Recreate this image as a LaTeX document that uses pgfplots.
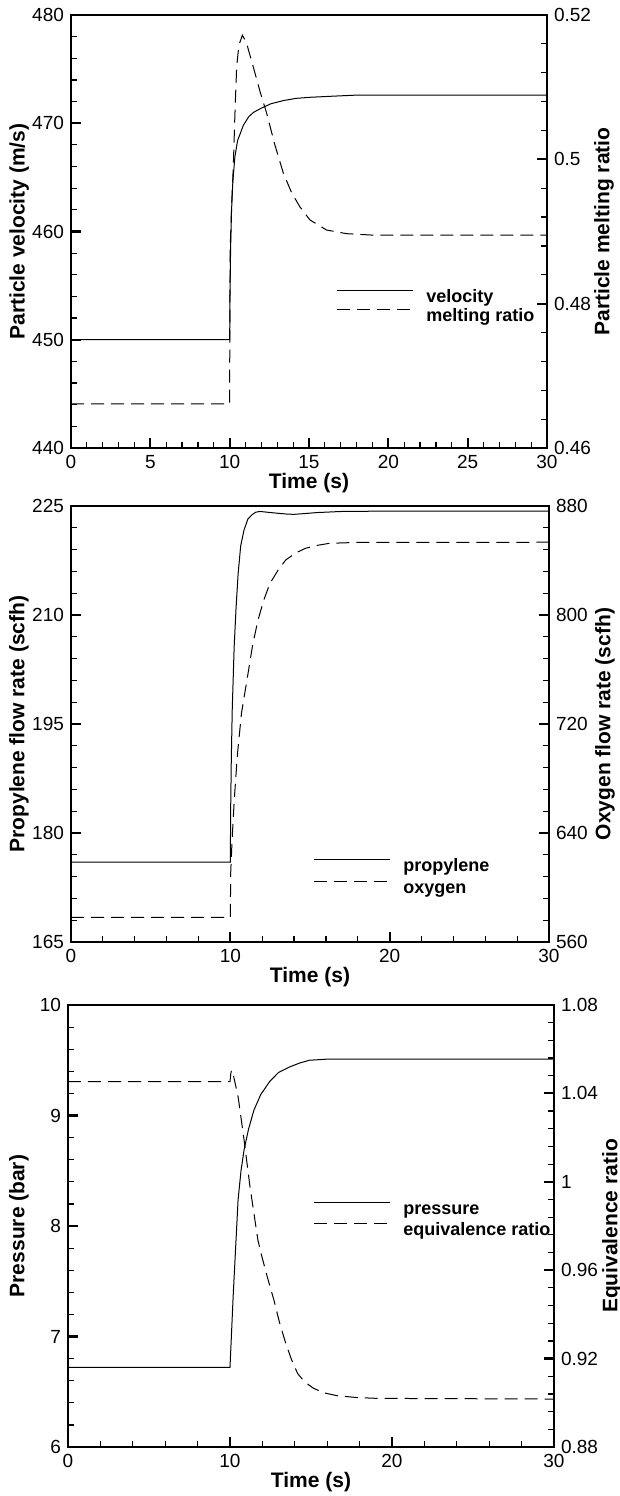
\documentclass[border=0pt]{standalone}
\usepackage{fontspec}
\setmainfont{Liberation Sans}
\usepackage{pgfplots}
\pgfplotsset{compat=1.18}

\newcommand\labfont{\fontsize{10.5}{12}\selectfont\bfseries}
\pgfplotsset{
  panel/.style={
    scale only axis, anchor=south west,
    xmin=0, xmax=30,
    minor tick num=4,
    tick align=inside,
    axis line style={line width=1.3pt},
    major tick length=5pt, minor tick length=3pt,
    major tick style={line width=1.1pt, black},
    minor tick style={line width=0.6pt, black},
    tick label style={font=\fontsize{9.5}{10}\selectfont},
    /pgf/number format/assume math mode=true,
    scaled ticks=false,
    every axis x label/.style={at={(axis description cs:0.5,0)}, anchor=north,
      yshift=-12.3pt, inner sep=0pt, font=\labfont},
  },
  ylab/.style={every axis y label/.style={at={(axis description cs:#1,0.5)},
      rotate=90, anchor=center, inner sep=0pt, font=\labfont}},
  leftside/.style={panel, xtick pos=left, ytick pos=left},
  rightside/.style={panel, hide x axis, axis y line*=right},
  curve/.style={black, line width=0.5pt},
  dcurve/.style={black, line width=0.5pt, dash pattern=on 6.5pt off 3.5pt},
  leg/.style n args={3}{
    legend cell align=left,
    legend image code/.code={\draw[##1] (0pt,3.5pt) -- (38pt,3.5pt);},
    legend style={at={(axis description cs:#1,#2)}, anchor=west, draw=none, fill=none,
      inner sep=0pt, row sep=#3,
      font=\fontsize{9}{11}\selectfont\bfseries,
      nodes={inner sep=0pt, text height=7pt, text depth=2pt},
      /tikz/every odd column/.append style={column sep=6.5pt}},
  },
}

\begin{document}
\begin{tikzpicture}

% ---- panel 1: particle velocity / melting ratio
\begin{axis}[leftside, at={(35.5pt,524pt)}, width=238pt, height=216.5pt,
  ymin=440, ymax=480, xtick={0,5,...,30}, ytick={440,450,...,480},
  xlabel={Time (s)}, ylabel={Particle velocity (m/s)}, ylab=-0.109]
\addplot[curve] coordinates {
  (0,450) (10,450) (10.02,454) (10.06,458.5) (10.12,462) (10.2,464.6)
  (10.33,466.9) (10.5,468.4) (10.86,469.8) (11.2,470.6) (11.5,471.0)
  (12.0,471.4) (12.6,471.8) (13.4,472.1) (14.2,472.3) (15.1,472.4)
  (16.5,472.5) (18,472.6) (30,472.6)
};
\end{axis}
\begin{axis}[rightside, at={(35.5pt,524pt)}, width=238pt, height=216.5pt,
  ymin=0.46, ymax=0.52, ytick={0.46,0.48,0.5,0.52},
  ylabel={Particle melting ratio}, ylab=1.1197,
  leg={0.5567}{0.3245}{0.5pt}]
\addlegendimage{curve}
\addlegendentry{velocity}
\addplot[dcurve] coordinates {
  (0,0.4661) (10,0.4661) (10.01,0.478) (10.03,0.4874) (10.12,0.4935)
  (10.23,0.499) (10.33,0.5062) (10.44,0.5128) (10.58,0.5158) (10.8,0.5172)
  (11.05,0.5162) (11.49,0.5128) (11.9,0.5095) (12.33,0.5064) (12.85,0.5020)
  (13.38,0.4981) (13.9,0.4954) (14.43,0.4934) (15.06,0.4916) (16.11,0.4902)
  (17.37,0.4897) (19,0.4895) (30,0.4895)
};
\addlegendentry{melting ratio}
\end{axis}

% ---- panel 2: propylene / oxygen flow rate
\begin{axis}[leftside, at={(35.5pt,277pt)}, width=239pt, height=218pt,
  ymin=165, ymax=225, xtick={0,10,20,30}, ytick={165,180,...,225},
  xlabel={Time (s)}, ylabel={Propylene flow rate (scfh)}, ylab=-0.1088]
\addplot[curve] coordinates {
  (0,176) (10,176) (10.02,183) (10.06,190) (10.12,197) (10.24,205.6)
  (10.36,211) (10.49,215.7) (10.65,219.5) (10.86,221.7) (11.1,223.2)
  (11.36,223.8) (11.6,224.15) (11.86,224.25) (12.3,224.15) (12.98,224.0)
  (13.5,223.9) (13.98,223.85) (14.6,223.95) (15.47,224.1) (17,224.25)
  (20,224.3) (30,224.3)
};
\end{axis}
\begin{axis}[rightside, at={(35.5pt,277pt)}, width=239pt, height=218pt,
  ymin=560, ymax=880, ytick={560,640,720,800,880},
  ylabel={Oxygen flow rate (scfh)}, ylab=1.117,
  leg={0.5063}{0.149}{2pt}]
\addlegendimage{curve}
\addlegendentry{propylene}
\addplot[dcurve] coordinates {
  (0,578) (10,578) (10.02,610) (10.11,635) (10.25,665) (10.44,697)
  (10.7,728) (11.11,757) (11.4,778) (11.73,796) (12.1,811) (12.48,823)
  (13.0,833) (13.48,840.4) (14.1,845.5) (14.73,849) (15.5,851.2)
  (16.22,852.6) (18,853.3) (30,853.4)
};
\addlegendentry{oxygen}
\end{axis}

% ---- panel 3: pressure / equivalence ratio
\begin{axis}[leftside, at={(34pt,24.5pt)}, width=243pt, height=221pt,
  ymin=6, ymax=10, xtick={0,10,20,30}, ytick={6,7,8,9,10},
  xlabel={Time (s)}, ylabel={Pressure (bar)}, ylab=-0.1008]
\addplot[curve] coordinates {
  (0,6.72) (10,6.72) (10.1,7.05) (10.2,7.38) (10.34,7.78) (10.5,8.24)
  (10.68,8.5) (10.87,8.69) (11.15,8.88) (11.48,9.05) (11.9,9.19)
  (12.46,9.31) (13.0,9.39) (13.69,9.44) (14.3,9.475) (14.9,9.5)
  (16,9.51) (30,9.51)
};
\end{axis}
\begin{axis}[rightside, at={(34pt,24.5pt)}, width=243pt, height=221pt,
  ymin=0.88, ymax=1.08, ytick={0.88,0.92,0.96,1,1.04,1.08},
  ylabel={Equivalence ratio}, ylab=1.119,
  leg={0.504}{0.5147}{1.5pt}]
\addlegendimage{curve}
\addlegendentry{pressure}
\addplot[dcurve] coordinates {
  (0,1.0453) (10,1.0453) (10.05,1.049) (10.1,1.0506) (10.2,1.0485)
  (10.5,1.0385) (10.87,1.0189) (11.23,0.998) (11.72,0.9737) (11.97,0.9661)
  (12.3,0.957) (12.71,0.9465) (13.05,0.9365) (13.44,0.9269) (13.8,0.9195)
  (14.17,0.9133) (14.6,0.9095) (15.15,0.9066) (15.8,0.9045) (16.62,0.9032)
  (17.8,0.9024) (19.07,0.902) (30,0.9017)
};
\addlegendentry{equivalence ratio}
\end{axis}

\pgfresetboundingbox
\path[use as bounding box] (0,0) rectangle (310pt,748pt);
\end{tikzpicture}
\end{document}
